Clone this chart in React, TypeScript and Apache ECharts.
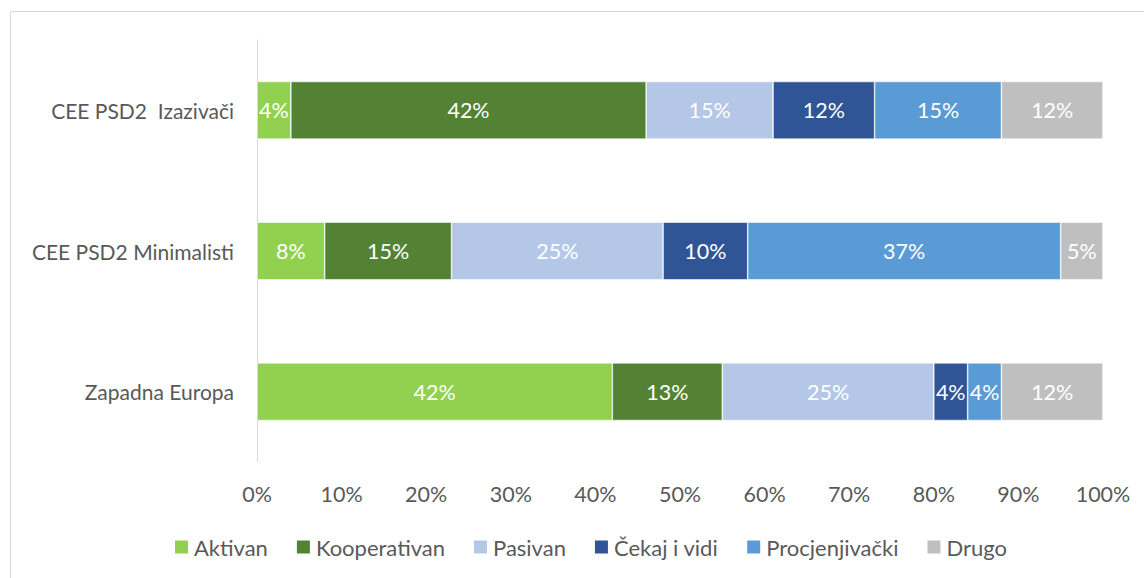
import React, { useEffect, useRef } from "react";
import * as echarts from "echarts";

const categories = ["Zapadna Europa", "CEE PSD2 Minimalisti", "CEE PSD2  Izazivači"];
const seriesNames = ["Aktivan", "Kooperativan", "Pasivan", "Čekaj i vidi", "Procjenjivački", "Drugo"];
const colors = ["#92D050", "#548235", "#B4C7E7", "#2F5597", "#5B9BD5", "#BFBFBF"];
const aktivan = [42, 8, 4];
const kooperativan = [13, 15, 42];
const pasivan = [25, 25, 15];
const cekaj = [4, 10, 12];
const procjenjivacki = [4, 37, 15];
const drugo = [12, 5, 12];
const seriesValues = [aktivan, kooperativan, pasivan, cekaj, procjenjivacki, drugo];
const xTicks = [0, 10, 20, 30, 40, 50, 60, 70, 80, 90, 100];

const FONT = "Lato, 'Noto Sans', sans-serif";

export default function App() {
  const ref = useRef<HTMLDivElement>(null);
  useEffect(() => {
    document.body.style.margin = "0";
    const chart = echarts.init(ref.current!, null, { renderer: "svg" });
    chart.setOption({
      animation: false,
      textStyle: { fontFamily: FONT },
      graphic: [
        {
          type: "rect",
          shape: { x: 10.5, y: 11.5, width: 1200, height: 700 },
          style: { fill: "none", stroke: "#D9D9D9", lineWidth: 1 },
          silent: true,
          z: -10,
        },
      ],
      grid: { left: 257, right: 41, top: 40, bottom: 116, containLabel: false },
      xAxis: {
        type: "value",
        min: 0,
        max: 100,
        interval: 10,
        axisLine: { show: false },
        axisTick: { show: false },
        splitLine: { show: false },
        axisLabel: {
          formatter: (v: number) => (xTicks.includes(v) ? v + "%" : ""),
          color: "#595959",
          fontSize: 21.5,
          margin: 21,
          fontFamily: FONT,
        },
      },
      yAxis: {
        type: "category",
        data: categories,
        axisLine: { show: true, lineStyle: { color: "#D9D9D9", width: 1 } },
        axisTick: { show: false },
        axisLabel: { color: "#595959", fontSize: 21, margin: 23, fontFamily: FONT },
      },
      legend: {
        top: 531,
        left: 168,
        itemWidth: 15,
        itemHeight: 15,
        itemGap: 27,
        icon: "rect",
        textStyle: { color: "#595959", fontSize: 22, fontFamily: FONT },
        data: seriesNames,
      },
      series: seriesNames.map((name, i) => ({
        name,
        type: "bar",
        stack: "total",
        barCategoryGap: "59%",
        data: seriesValues[i],
        itemStyle: { color: colors[i], borderColor: "#FFFFFF", borderWidth: 0.6 },
        label: {
          show: true,
          position: "inside",
          formatter: (p: any) => p.value + "%",
          color: "#FFFFFF",
          fontSize: 21.5,
          fontFamily: FONT,
        },
      })),
    });
    return () => chart.dispose();
  }, []);
  return <div ref={ref} style={{ width: 1144, height: 578 }} />;
}
